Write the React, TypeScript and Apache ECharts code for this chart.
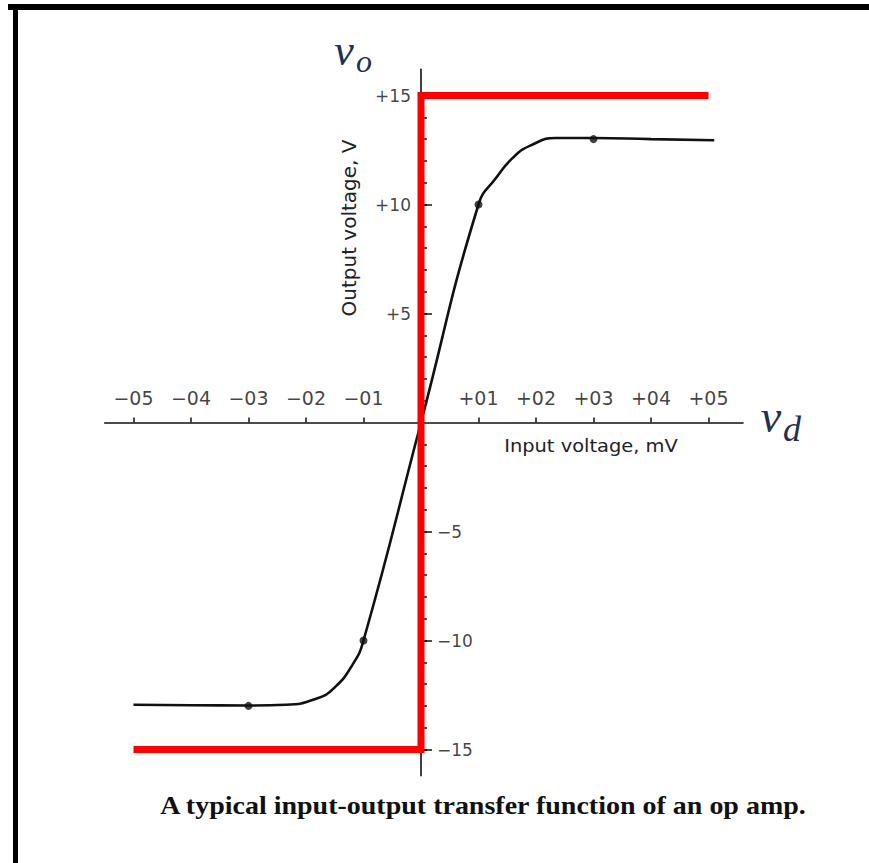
import React, { useEffect, useRef } from 'react';
import * as echarts from 'echarts';

// Measured op-amp transfer curve: input in mV, output in V
const inputMv = [-0.5, -0.4, -0.3, -0.235, -0.18, -0.15, -0.12, -0.1, 0, 0.1, 0.13, 0.16, 0.19, 0.235, 0.3, 0.4, 0.51];
const outputV = [-12.95, -12.97, -12.98, -12.95, -12.65, -12.15, -11.15, -10, 0, 10, 11.2, 12.15, 12.7, 13.05, 13.05, 13.0, 12.95];

// Plotted sample points on the curve
const markedMv = [-0.3, -0.1, 0.1, 0.3];
const markedV = [-13, -10, 10, 13];

// Ideal transfer (saturates at the supply rails)
const idealMv = [-0.5, 0, 0, 0.5];
const idealV = [-15, -15, 15, 15];

// Axis ticks and labels
const xTickValues = [-0.5, -0.4, -0.3, -0.2, -0.1, 0.1, 0.2, 0.3, 0.4, 0.5];
const xTickLabels = ['\u221205', '\u221204', '\u221203', '\u221202', '\u221201', '+01', '+02', '+03', '+04', '+05'];
const yMinorTicks = [-15, -14, -13, -12, -11, -10, -9, -8, -7, -6, -5, -4, -3, -2, -1, 1, 2, 3, 4, 5, 6, 7, 8, 9, 10, 11, 12, 13, 14, 15];
const yMajorTicks = [-15, -10, -5, 5, 10, 15];
const yUpperValues = [5, 10, 15];
const yUpperLabels = ['+5', '+10', '+15'];
const yLowerValues = [-5, -10, -15];
const yLowerLabels = ['\u22125', '\u221210', '\u221215'];

const INK = '#111';
const SANS = '"DejaVu Sans", sans-serif';
const SERIF = '"Liberation Serif", serif';
const MATH_BLUE = '#1f2f55';

const centered = { align: 'center', verticalAlign: 'middle', textAlign: 'center', textVerticalAlign: 'middle' };

// invisible scatter whose labels act as tick labels placed by the axis scales
function tickLabelSeries(
  name: string,
  points: number[][],
  labels: string[],
  position: 'top' | 'left' | 'right',
  distance: number,
  fontSize: number
) {
  return {
    type: 'scatter',
    name,
    data: points,
    symbolSize: 0,
    silent: true,
    z: 6,
    label: {
      show: true,
      position,
      distance,
      color: INK,
      fontFamily: SANS,
      fontSize,
      formatter: (p: any) => labels[p.dataIndex],
    },
  };
}

export default function App() {
  const ref = useRef<HTMLDivElement>(null);

  useEffect(() => {
    if (!ref.current) return;
    const chart = echarts.init(ref.current, undefined, { renderer: 'svg' });

    const xRange = { min: -0.55, max: 0.56 };
    const yRange = { min: -16.2, max: 16.2 };

    const option: any = {
      animation: false,
      backgroundColor: '#fff',
      grid: { left: 104.75, top: 69.34, width: 638.25, height: 706.32, containLabel: false },
      xAxis: [
        {
          type: 'value',
          ...xRange,
          position: 'bottom',
          axisLine: { show: true, onZero: true, lineStyle: { color: INK, width: 1.6 } },
          axisTick: { show: true, inside: true, length: 5, customValues: xTickValues, lineStyle: { color: INK, width: 1.5 } },
          axisLabel: { show: false },
          splitLine: { show: false },
        },
        { type: 'value', ...xRange, position: 'bottom', show: false },
      ],
      yAxis: [
        {
          type: 'value',
          ...yRange,
          position: 'left',
          axisLine: { show: true, onZero: true, onZeroAxisIndex: 0, lineStyle: { color: INK, width: 1.6 } },
          axisTick: { show: true, inside: true, length: 6, customValues: yMinorTicks, lineStyle: { color: INK, width: 1.5 } },
          axisLabel: { show: false },
          splitLine: { show: false },
        },
        {
          type: 'value',
          ...yRange,
          position: 'left',
          axisLine: { show: false, onZero: true, onZeroAxisIndex: 1 },
          axisTick: { show: true, inside: true, length: 11, customValues: yMajorTicks, lineStyle: { color: INK, width: 1.5 } },
          axisLabel: { show: false },
          splitLine: { show: false },
        },
      ],
      series: [
        {
          type: 'line',
          name: 'measured',
          data: inputMv.map((x, i) => [x, outputV[i]]),
          smooth: 0.5,
          showSymbol: false,
          lineStyle: { color: INK, width: 2.6 },
          z: 3,
        },
        {
          type: 'scatter',
          name: 'points',
          data: markedMv.map((x, i) => [x, markedV[i]]),
          symbolSize: 8,
          itemStyle: { color: INK },
          z: 4,
        },
        {
          type: 'line',
          name: 'ideal',
          data: idealMv.map((x, i) => [x, idealV[i]]),
          showSymbol: false,
          lineStyle: { color: '#ff0000', width: 7, join: 'miter', cap: 'butt' },
          z: 5,
        },
        tickLabelSeries('x ticks', xTickValues.map((v) => [v, 0]), xTickLabels, 'top', 15, 19),
        tickLabelSeries('upper ticks', yUpperValues.map((v) => [0, v]), yUpperLabels, 'left', 10, 17),
        tickLabelSeries('lower ticks', yLowerValues.map((v) => [0, v]), yLowerLabels, 'right', 16, 17),
      ],
      graphic: [
        // page frame
        { type: 'line', shape: { x1: 8, y1: 7, x2: 869, y2: 7 }, style: { stroke: '#000', lineWidth: 6 }, z: 10 },
        { type: 'line', shape: { x1: 15.5, y1: 4, x2: 15.5, y2: 863 }, style: { stroke: '#000', lineWidth: 5 }, z: 10 },
        // axis titles
        {
          type: 'text',
          x: 349,
          y: 228,
          rotation: Math.PI / 2,
          style: { text: 'Output voltage, V', font: `20px ${SANS}`, fill: '#222', ...centered },
        },
        {
          type: 'text',
          x: 591,
          y: 446,
          scaleX: 1.08,
          style: { text: 'Input voltage, mV', font: `18px ${SANS}`, fill: '#222', ...centered },
        },
        // v_o
        { type: 'text', x: 344, y: 50, style: { text: 'v', font: `italic 44px ${SERIF}`, fill: MATH_BLUE, ...centered } },
        { type: 'text', x: 364, y: 61, style: { text: 'o', font: `italic 32px ${SERIF}`, fill: MATH_BLUE, ...centered } },
        // v_d
        { type: 'text', x: 771, y: 416, style: { text: 'v', font: `italic 46px ${SERIF}`, fill: MATH_BLUE, ...centered } },
        { type: 'text', x: 792, y: 429, style: { text: 'd', font: `italic 36px ${SERIF}`, fill: MATH_BLUE, ...centered } },
        // caption
        {
          type: 'text',
          x: 483,
          y: 806,
          scaleX: 1.12,
          style: { text: 'A typical input-output transfer function of an op amp.', font: `bold 25px ${SERIF}`, fill: INK, ...centered },
        },
      ],
    };

    chart.setOption(option);
    return () => chart.dispose();
  }, []);

  return (
    <div
      ref={ref}
      style={{ position: 'absolute', left: 0, top: 0, width: 869, height: 863, background: '#fff' }}
    />
  );
}
